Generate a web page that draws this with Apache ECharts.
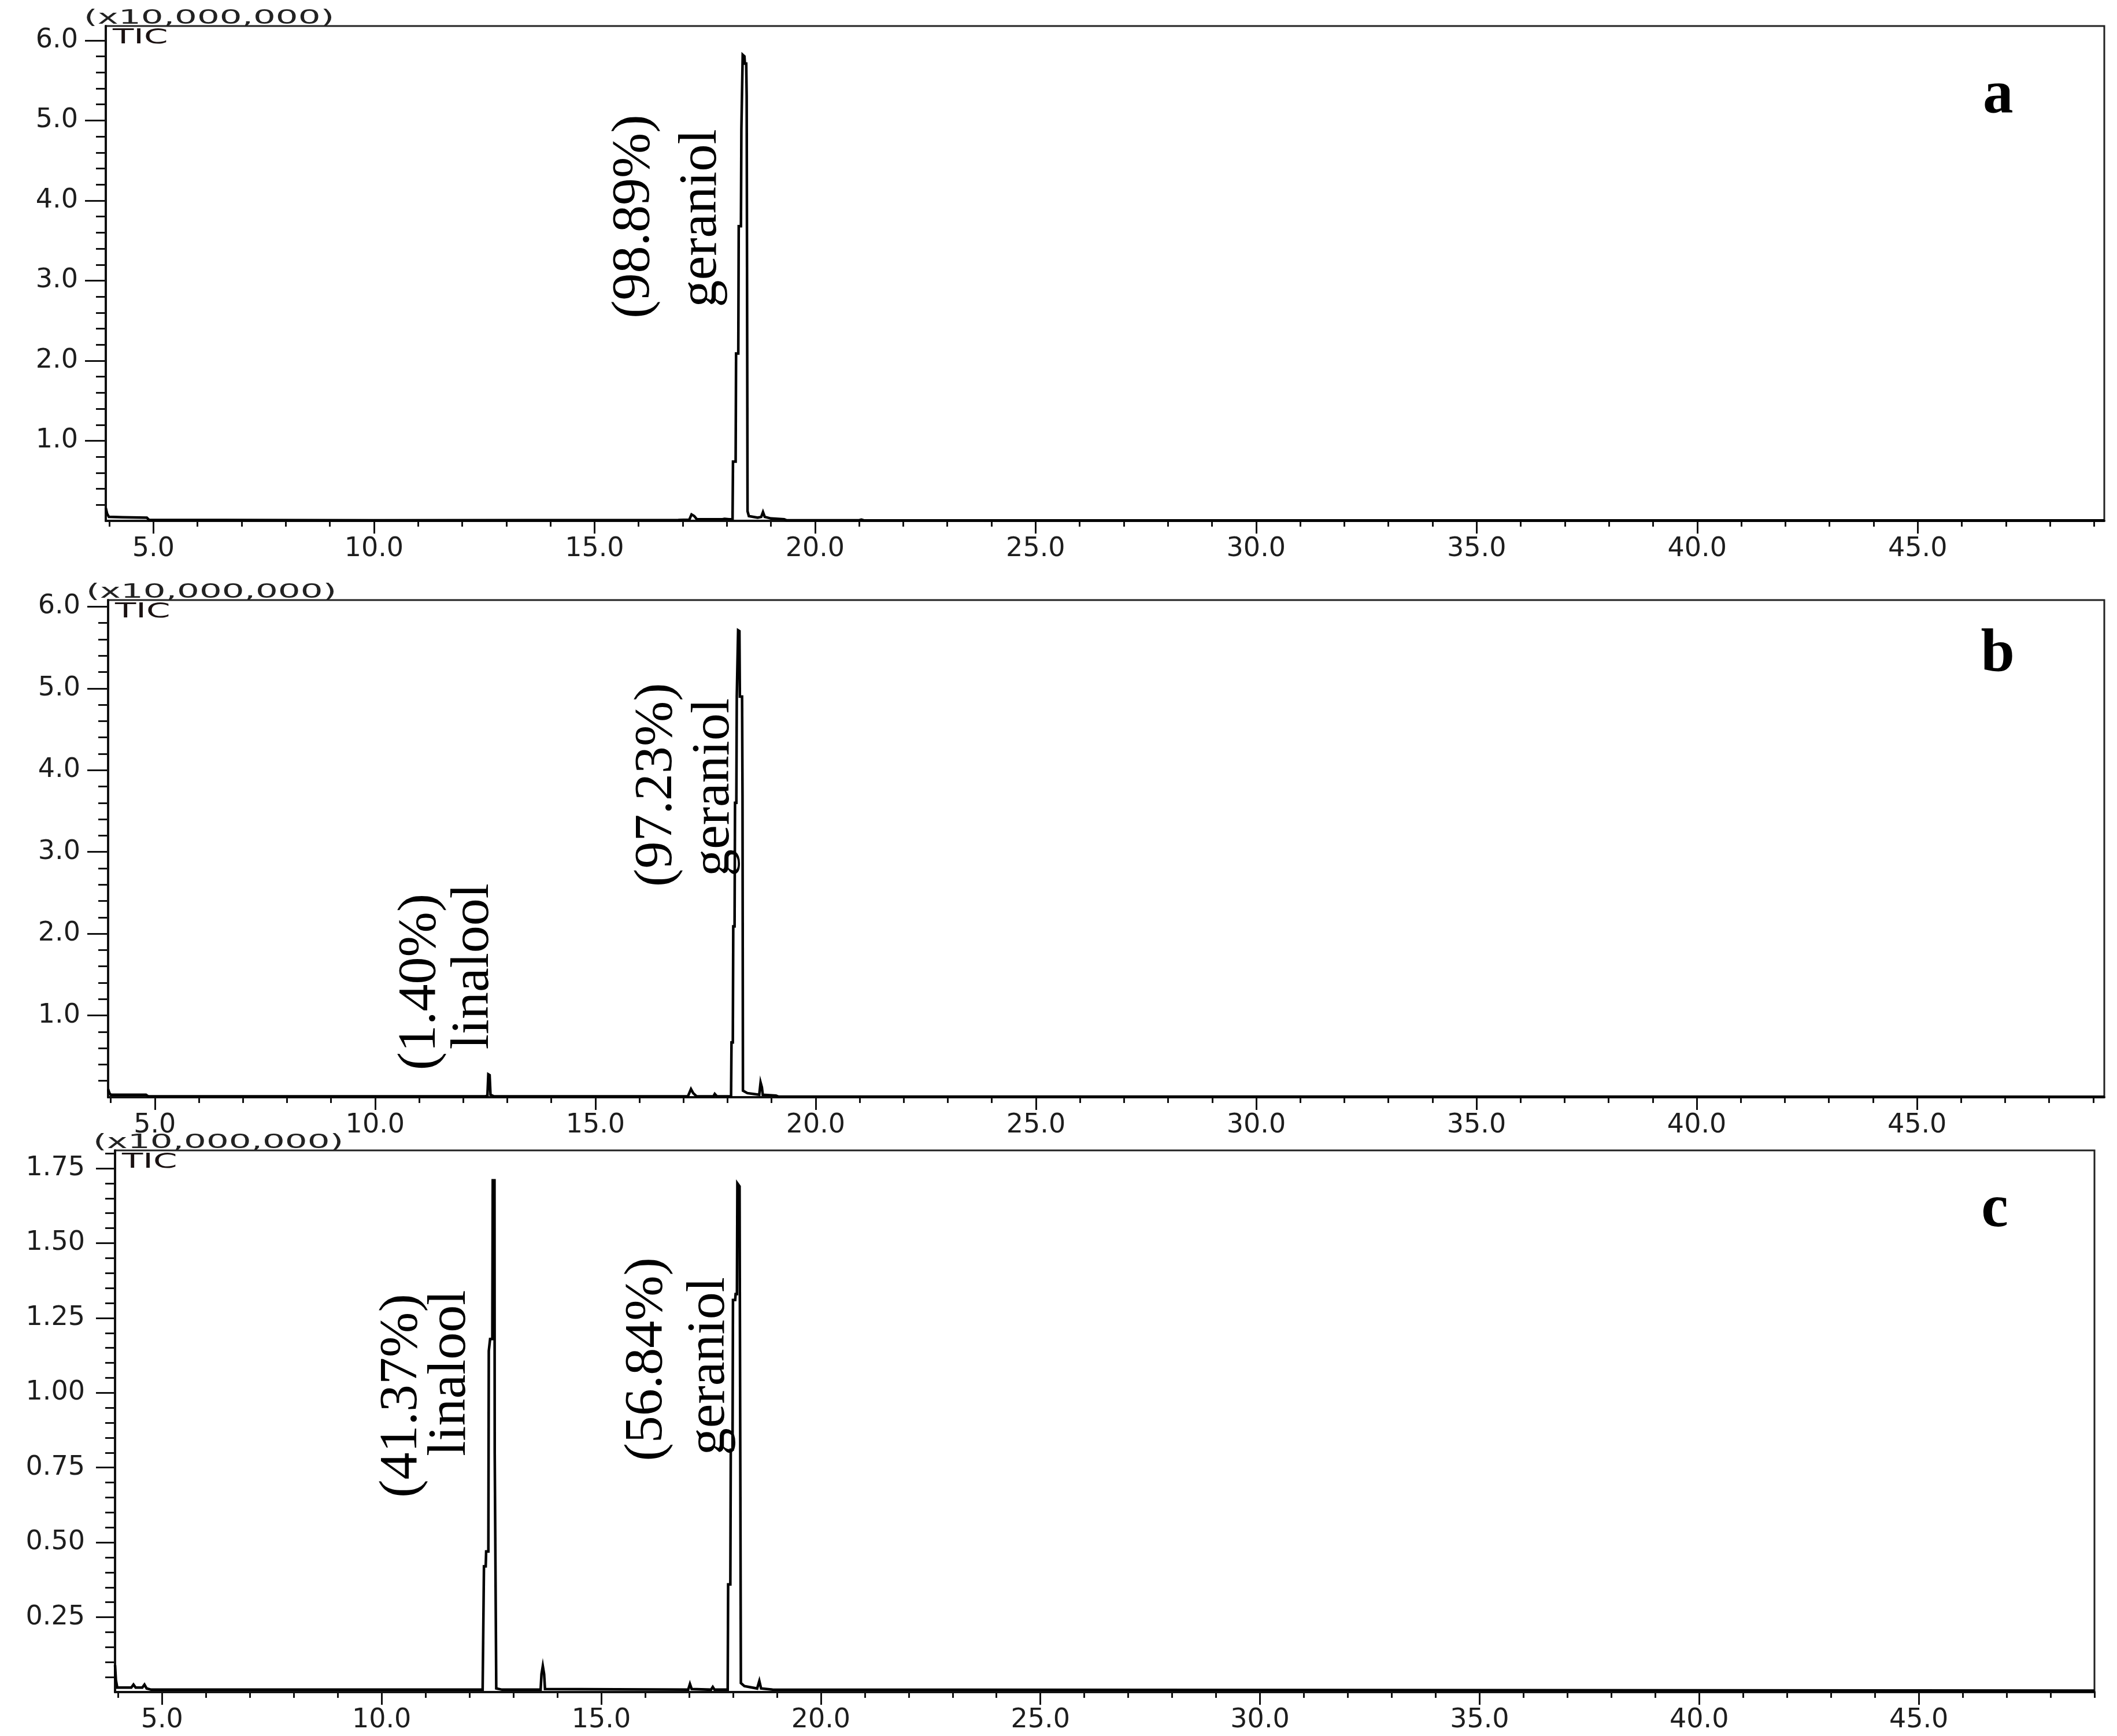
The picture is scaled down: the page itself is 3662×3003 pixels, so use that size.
<!DOCTYPE html>
<html>
<head>
<meta charset="utf-8">
<script src="https://cdn.jsdelivr.net/npm/echarts@6/dist/echarts.min.js"></script>
<style>
  html, body { margin: 0; padding: 0; background: #fff; }
  #main { width: 3662px; height: 3003px; }
</style>
</head>
<body>
<div id="main"></div>
<script>
// GC-MS TIC traces: [retention time (min), intensity (x10,000,000)]
var traceA = [
  [3.92, 0.16], [3.95, 0.09], [3.99, 0.05], [4.3, 0.045], [4.85, 0.04], [4.9, 0.012],
  [10.0, 0.008], [16.9, 0.01], [17.15, 0.015], [17.2, 0.08], [17.26, 0.06], [17.32, 0.02],
  [17.9, 0.02], [17.95, 0.025], [18.05, 0.02], [18.13, 0.02],
  [18.14, 0.74], [18.2, 0.74], [18.21, 2.09], [18.26, 2.09], [18.27, 3.68], [18.32, 3.68],
  [18.33, 4.89], [18.35, 4.89], [18.36, 5.82], [18.4, 5.8], [18.41, 5.71], [18.44, 5.71],
  [18.45, 5.31], [18.46, 5.31], [18.47, 0.12], [18.5, 0.06], [18.7, 0.04], [18.78, 0.05],
  [18.82, 0.11], [18.86, 0.05], [19.0, 0.03], [19.3, 0.02], [19.35, 0.008],
  [21.0, 0.008], [21.05, 0.015], [21.1, 0.008], [49.23, 0.005]
];
var traceB = [
  [3.94, 0.1], [3.97, 0.05], [4.0, 0.03], [4.8, 0.03], [4.85, 0.01],
  [12.5, 0.01], [12.55, 0.02], [12.57, 0.28], [12.6, 0.27], [12.62, 0.03], [12.7, 0.01],
  [17.1, 0.01], [17.17, 0.1], [17.22, 0.05], [17.3, 0.01], [17.68, 0.01], [17.71, 0.04], [17.76, 0.01],
  [18.08, 0.01], [18.09, 0.67], [18.12, 0.67], [18.13, 2.09], [18.16, 2.09], [18.17, 3.6], [18.2, 3.6],
  [18.21, 4.9], [18.23, 4.9], [18.24, 5.71], [18.27, 5.7], [18.28, 4.9], [18.33, 4.9],
  [18.34, 3.7], [18.35, 0.08], [18.45, 0.05], [18.72, 0.03], [18.75, 0.18], [18.78, 0.12],
  [18.8, 0.03], [19.1, 0.02], [19.15, 0.008], [49.25, 0.005]
];
var traceC = [
  [3.93, 0.09], [3.95, 0.04], [3.98, 0.015], [4.3, 0.015], [4.35, 0.025], [4.4, 0.015],
  [4.55, 0.015], [4.6, 0.025], [4.65, 0.012], [4.75, 0.008],
  [12.3, 0.008], [12.33, 0.42], [12.37, 0.42], [12.38, 0.47], [12.43, 0.47], [12.44, 1.14],
  [12.46, 1.14], [12.47, 1.18], [12.52, 1.18], [12.53, 1.71], [12.57, 1.71], [12.575, 0.8],
  [12.6, 0.8], [12.61, 0.012], [12.74, 0.008],
  [13.62, 0.008], [13.64, 0.06], [13.67, 0.087], [13.7, 0.06], [13.72, 0.01],
  [16.98, 0.008], [17.02, 0.027], [17.06, 0.01], [17.5, 0.008], [17.54, 0.017], [17.58, 0.008],
  [17.88, 0.008], [17.89, 0.36], [17.94, 0.36], [17.95, 0.81], [17.99, 0.81], [18.0, 1.31],
  [18.05, 1.31], [18.06, 1.33], [18.09, 1.33], [18.1, 1.70], [18.15, 1.69], [18.18, 0.03],
  [18.26, 0.02], [18.55, 0.012], [18.6, 0.037], [18.64, 0.012], [18.9, 0.008], [49.0, 0.005]
];

var xTicks = [5, 10, 15, 20, 25, 30, 35, 40, 45];
var yTicksAB = [1, 2, 3, 4, 5, 6];
var yTicksC = [0.25, 0.5, 0.75, 1.0, 1.25, 1.5, 1.75];

var compounds = ['linalool', 'geraniol'];
var shareA = [null, '98.89%'];
var shareB = ['1.40%', '97.23%'];
var shareC = ['41.37%', '56.84%'];
var panelNames = ['a', 'b', 'c'];

// minor ticks
var xMinor = [];
for (var t = 4; t <= 49; t++) xMinor.push(t);
var yMinorAB = [];
for (var k = 1; k <= 30; k++) yMinorAB.push(Math.round(k * 2) / 10);
var yMinorC = [];
for (var k2 = 1; k2 <= 36; k2++) yMinorC.push(Math.round(k2 * 5) / 100);

var panels = [
  { grid: { left: 183, top: 45, width: 3457, height: 856 }, xMin: 3.92, xMax: 49.23, yMax: 6.18,
    data: traceA, yTicks: yTicksAB, yMinor: yMinorAB, digits: 1, tickLen: 36, labelMargin: 48 },
  { grid: { left: 187, top: 1038, width: 3453, height: 860 }, xMin: 3.94, xMax: 49.25, yMax: 6.08,
    data: traceB, yTicks: yTicksAB, yMinor: yMinorAB, digits: 1, tickLen: 36, labelMargin: 48 },
  { grid: { left: 199, top: 1990, width: 3424, height: 937 }, xMin: 3.93, xMax: 49.0, yMax: 1.81,
    data: traceC, yTicks: yTicksC, yMinor: yMinorC, digits: 2, tickLen: 33, labelMargin: 52 }
];

var axisFont = 'DejaVu Sans';
var ink = '#111';

var grids = [], xAxes = [], yAxes = [], series = [];
panels.forEach(function (p, i) {
  grids.push({
    left: p.grid.left, top: p.grid.top, width: p.grid.width, height: p.grid.height,
    show: true, borderColor: '#222', borderWidth: 3, backgroundColor: 'transparent'
  });
  xAxes.push({
    type: 'value', gridIndex: i, min: p.xMin, max: p.xMax, position: 'bottom',
    axisLine: { show: true, onZero: false, lineStyle: { color: ink, width: 4 } },
    axisTick: { show: true, customValues: xTicks, length: 22, lineStyle: { color: ink, width: 3 } },
    axisLabel: {
      customValues: xTicks, margin: 26, fontFamily: axisFont, fontSize: 46, color: '#1d1d1d',
      formatter: function (v) { return v.toFixed(1); }
    },
    splitLine: { show: false }
  });
  xAxes.push({
    type: 'value', gridIndex: i, min: p.xMin, max: p.xMax, position: 'bottom',
    axisLine: { show: false, onZero: false },
    axisTick: { show: true, customValues: xMinor, length: 10, lineStyle: { color: ink, width: 3 } },
    axisLabel: { show: false },
    splitLine: { show: false }
  });
  yAxes.push({
    type: 'value', gridIndex: i, min: 0, max: p.yMax, position: 'left',
    axisLine: { show: true, onZero: false, lineStyle: { color: ink, width: 4 } },
    axisTick: { show: true, customValues: p.yTicks, length: p.tickLen, lineStyle: { color: ink, width: 3 } },
    axisLabel: {
      customValues: p.yTicks, margin: p.labelMargin, fontFamily: axisFont, fontSize: 46, color: '#1d1d1d',
      formatter: (function (d) { return function (v) { return v.toFixed(d); }; })(p.digits)
    },
    splitLine: { show: false }
  });
  yAxes.push({
    type: 'value', gridIndex: i, min: 0, max: p.yMax, position: 'left',
    axisLine: { show: false, onZero: false },
    axisTick: { show: true, customValues: p.yMinor, length: 17, lineStyle: { color: ink, width: 3 } },
    axisLabel: { show: false },
    splitLine: { show: false }
  });
  series.push({
    type: 'line', xAxisIndex: 2 * i, yAxisIndex: 2 * i, data: p.data,
    showSymbol: false, symbol: 'none', silent: true, clip: true,
    lineStyle: { color: '#000', width: 4.5, join: 'miter' }
  });
});

var chart = echarts.init(document.getElementById('main'));
chart.setOption({
  animation: false,
  backgroundColor: '#fff',
  grid: grids,
  xAxis: xAxes,
  yAxis: yAxes,
  series: series
});

function toPx(i, t, v) {
  return chart.convertToPixel({ xAxisIndex: 2 * i, yAxisIndex: 2 * i }, [t, v]);
}

// rotated peak notes, anchored in data space of each panel
var notes = [
  [0, 15.90, 3.80, '(' + shareA[1] + ')'], [0, 17.43, 3.78, compounds[1]],
  [1, 16.40, 3.82, '(' + shareB[1] + ')'], [1, 17.70, 3.79, compounds[1]],
  [1, 11.03, 1.41, '(' + shareB[0] + ')'], [1, 12.24, 1.60, compounds[0]],
  [2, 10.46, 0.99, '(' + shareC[0] + ')'], [2, 11.57, 1.066, compounds[0]],
  [2, 16.05, 1.112, '(' + shareC[1] + ')'], [2, 17.47, 1.089, compounds[1]]
];
var letterSpots = [[46.82, 5.30], [46.83, 5.40], [46.73, 1.61]];

var graphics = [];
panels.forEach(function (p, i) {
  var corner = toPx(i, p.xMin, p.yMax);
  graphics.push({
    type: 'text', x: corner[0] - 38, y: corner[1] + 4, scaleX: 1.85, silent: true,
    style: { text: '(x10,000,000)', font: '33px "DejaVu Sans"', fill: '#222',
      textAlign: 'left', textVerticalAlign: 'bottom' }
  });
  graphics.push({
    type: 'text', x: corner[0] + 12, y: corner[1] + 3, scaleX: 1.7, silent: true,
    style: { text: 'TIC', font: '35px "DejaVu Sans"', fill: '#1a1111',
      textAlign: 'left', textVerticalAlign: 'top' }
  });
  var lp = toPx(i, letterSpots[i][0], letterSpots[i][1]);
  graphics.push({
    type: 'text', x: lp[0], y: lp[1], silent: true,
    style: { text: panelNames[i], font: 'bold 105px "Liberation Serif"', fill: '#000',
      textAlign: 'center', textVerticalAlign: 'middle' }
  });
});
notes.forEach(function (n) {
  var pt = toPx(n[0], n[1], n[2]);
  graphics.push({
    type: 'text', x: pt[0], y: pt[1], rotation: Math.PI / 2, silent: true,
    style: { text: n[3], font: '94px "Liberation Serif"', fill: '#000',
      textAlign: 'center', textVerticalAlign: 'middle' }
  });
});

chart.setOption({ graphic: { elements: graphics } });
</script>
</body>
</html>
